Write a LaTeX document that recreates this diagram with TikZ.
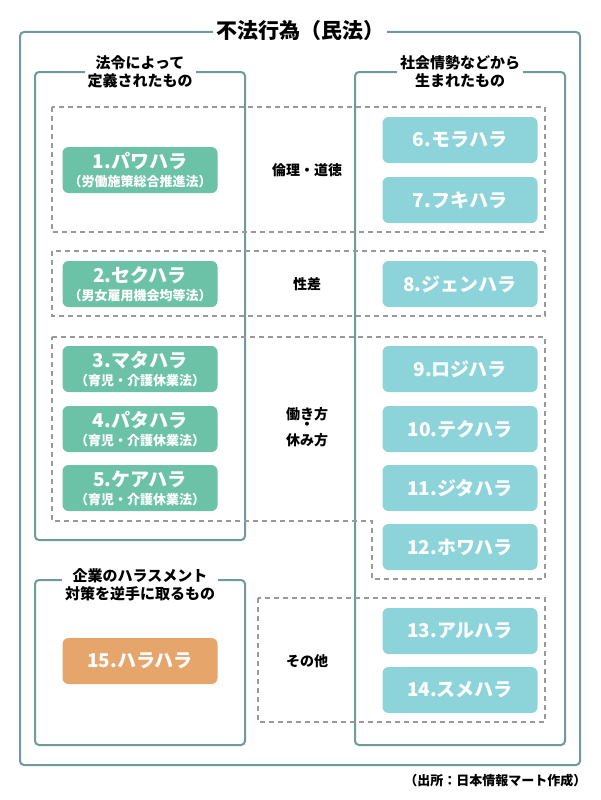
\documentclass[tikz,border=0pt]{standalone}
\usepackage{fontspec}
\setmainfont{Noto Sans CJK JP}
\usetikzlibrary{positioning}
\definecolor{framec}{HTML}{6F9A9B}
\definecolor{lawc}{HTML}{6CC2A6}
\definecolor{socc}{HTML}{8CD4DA}
\definecolor{corpc}{HTML}{E5A56B}
\tikzset{
  frame/.style={draw=framec,line width=2pt,rounded corners=4pt},
  group/.style={draw=gray!80,line width=1.2pt,dash pattern=on 5pt off 4pt},
  tag/.style={fill=white,inner sep=3pt,align=center,font=\bfseries\fontsize{15}{18}\selectfont},
  harabox/.style={rounded corners=6pt,minimum width=155pt,minimum height=46pt,
                  text=white,align=center,inner sep=0pt,font=\bfseries\fontsize{19}{20}\selectfont},
  law/.style={harabox,fill=lawc},
  soc/.style={harabox,fill=socc},
  corp/.style={harabox,fill=corpc},
  mid/.style={align=center,font=\bfseries\fontsize{14}{18}\selectfont}
}
\newcommand{\lawname}[1]{{\fontsize{13}{15}\selectfont #1}}
\begin{document}
\begin{tikzpicture}[x=1pt,y=-1pt]
\useasboundingbox (0,0) rectangle (600,800);
% frames
\draw[frame] (20,32) rectangle (580,765);
\draw[frame] (35,72) rectangle (245,540);
\draw[frame] (35,580) rectangle (245,745);
\draw[frame] (355,72) rectangle (565,745);
% dashed groups
\draw[group] (52,107) rectangle (545,232);
\draw[group] (52,251) rectangle (545,316);
\draw[group] (52,337) -- (545,337) -- (545,579) -- (372,579) -- (372,521) -- (52,521) -- cycle;
\draw[group] (258,598) rectangle (545,722);
% titles
\node[tag,font=\bfseries\fontsize{21}{23}\selectfont] (main) at (300,31) {不法行為（民法）};
\node[tag] (deflaw) at (140,72) {法令によって\\定義されたもの};
\node[tag] (social) at (460,72) {社会情勢などから\\生まれたもの};
\node[tag] (corpt) at (140,585) {企業のハラスメント\\対策を逆手に取るもの};
% boxes
\node[law] (h1) at (140,170) {1.パワハラ\\[-2pt]\lawname{（労働施策総合推進法）}};
\node[law] (h2) at (140,284) {2.セクハラ\\[-2pt]\lawname{（男女雇用機会均等法）}};
\node[law] (h3) at (140,369) {3.マタハラ\\[-2pt]\lawname{（育児・介護休業法）}};
\node[law] (h4) at (140,429) {4.パタハラ\\[-2pt]\lawname{（育児・介護休業法）}};
\node[law] (h5) at (140,488) {5.ケアハラ\\[-2pt]\lawname{（育児・介護休業法）}};
\node[soc] (h6) at (460,140) {6.モラハラ};
\node[soc] (h7) at (460,200) {7.フキハラ};
\node[soc] (h8) at (460,284) {8.ジェンハラ};
\node[soc] (h9) at (460,369) {9.ロジハラ};
\node[soc] (h10) at (460,429) {10.テクハラ};
\node[soc] (h11) at (460,488) {11.ジタハラ};
\node[soc] (h12) at (460,547) {12.ホワハラ};
\node[soc] (h13) at (460,631) {13.アルハラ};
\node[soc] (h14) at (460,690) {14.スメハラ};
\node[corp] (h15) at (140,661) {15.ハラハラ};
% group labels
\node[mid] (ethic) at (307,170) {倫理・道徳};
\node[mid] (gender) at (307,284) {性差};
\node[mid] (work) at (307,414) {働き方};
\node[mid] (dot) at (307,426) {・};
\node[mid] (rest) at (307,440) {休み方};
\node[mid] (other) at (307,661) {その他};
\node[anchor=east,font=\bfseries\fontsize{13}{15}\selectfont] (src) at (590,781) {（出所：日本情報マート作成）};
\end{tikzpicture}
\end{document}
